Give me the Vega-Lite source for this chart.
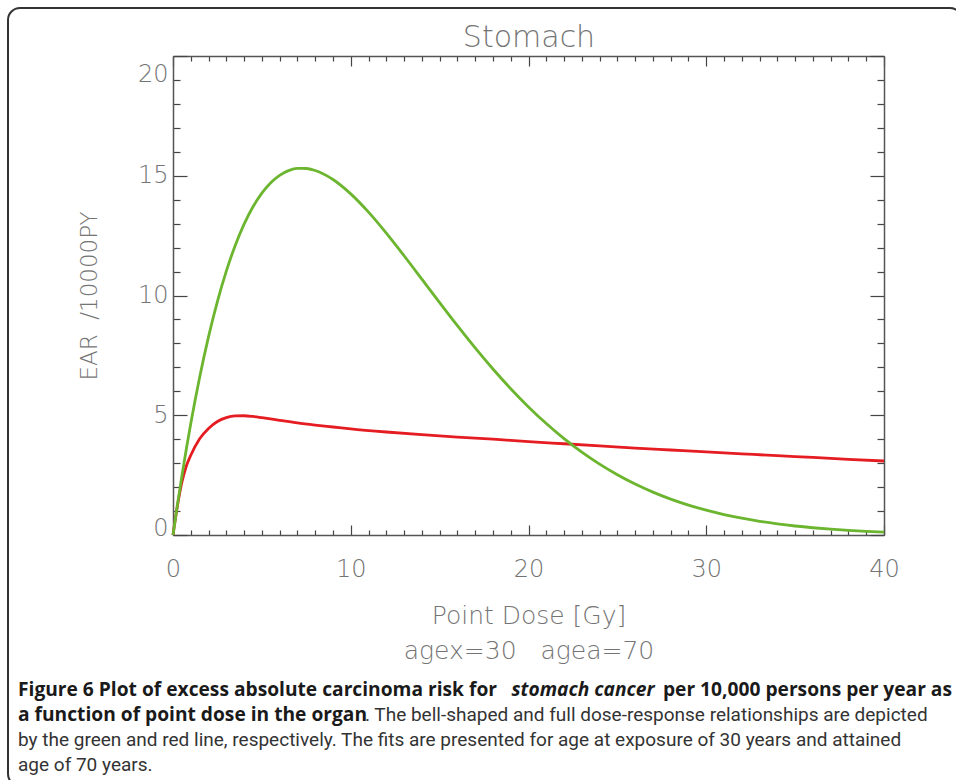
{
  "$schema": "https://vega.github.io/schema/vega-lite/v6.json",
  "autosize": {"type": "none"},
  "width": 954,
  "height": 778,
  "padding": {"left": 8, "top": 8, "right": -6, "bottom": -6},
  "background": "white",
  "config": {
    "view": {"stroke": "#333333", "strokeWidth": 2, "cornerRadius": 12, "fill": "white"},
    "axis": {"grid": false, "labelFont": "DejaVu Sans", "titleFont": "DejaVu Sans", "labelFontWeight": 200, "titleFontWeight": 200, "labelColor": "#747474", "titleColor": "#747474", "domainColor": "#555555", "domainWidth": 1.5, "tickColor": "#444444", "tickWidth": 1.2}
  },
  "datasets": {
    "green": [
      {"dose": 0, "ear": 0}, {"dose": 0.25, "ear": 1.267}, {"dose": 0.5, "ear": 2.463}, {"dose": 0.75, "ear": 3.592},
      {"dose": 1, "ear": 4.654}, {"dose": 1.5, "ear": 6.589}, {"dose": 2, "ear": 8.285}, {"dose": 2.5, "ear": 9.756},
      {"dose": 3, "ear": 11.018}, {"dose": 3.5, "ear": 12.087}, {"dose": 4, "ear": 12.978}, {"dose": 4.5, "ear": 13.703},
      {"dose": 5, "ear": 14.275}, {"dose": 5.5, "ear": 14.71}, {"dose": 6, "ear": 15.019}, {"dose": 6.5, "ear": 15.212},
      {"dose": 7, "ear": 15.304}, {"dose": 7.5, "ear": 15.303}, {"dose": 8, "ear": 15.219}, {"dose": 9, "ear": 14.843},
      {"dose": 10, "ear": 14.242}, {"dose": 11, "ear": 13.48}, {"dose": 12, "ear": 12.604}, {"dose": 13, "ear": 11.66},
      {"dose": 14, "ear": 10.684}, {"dose": 15, "ear": 9.702}, {"dose": 16, "ear": 8.739}, {"dose": 17, "ear": 7.811},
      {"dose": 18, "ear": 6.931}, {"dose": 19, "ear": 6.109}, {"dose": 20, "ear": 5.348}, {"dose": 21, "ear": 4.653},
      {"dose": 22, "ear": 4.024}, {"dose": 23, "ear": 3.461}, {"dose": 24, "ear": 2.959}, {"dose": 25, "ear": 2.516},
      {"dose": 26, "ear": 2.128}, {"dose": 27, "ear": 1.791}, {"dose": 28, "ear": 1.499}, {"dose": 29, "ear": 1.249},
      {"dose": 30, "ear": 1.035}, {"dose": 31, "ear": 0.853}, {"dose": 32, "ear": 0.7}, {"dose": 33, "ear": 0.572},
      {"dose": 34, "ear": 0.465}, {"dose": 35, "ear": 0.376}, {"dose": 36, "ear": 0.303}, {"dose": 37, "ear": 0.243},
      {"dose": 38, "ear": 0.194}, {"dose": 39, "ear": 0.154}, {"dose": 40, "ear": 0.122}
    ],
    "red": [
      {"dose": 0, "ear": 0}, {"dose": 0.25, "ear": 1.22}, {"dose": 0.5, "ear": 2.2}, {"dose": 0.75, "ear": 2.88},
      {"dose": 1, "ear": 3.33}, {"dose": 1.5, "ear": 4.02}, {"dose": 2, "ear": 4.45}, {"dose": 2.5, "ear": 4.74},
      {"dose": 3, "ear": 4.9}, {"dose": 3.5, "ear": 4.97}, {"dose": 4, "ear": 4.98}, {"dose": 4.5, "ear": 4.95},
      {"dose": 5, "ear": 4.9}, {"dose": 6, "ear": 4.79}, {"dose": 7, "ear": 4.68}, {"dose": 8, "ear": 4.59},
      {"dose": 9, "ear": 4.51}, {"dose": 10, "ear": 4.43}, {"dose": 12, "ear": 4.3}, {"dose": 14, "ear": 4.19},
      {"dose": 16, "ear": 4.09}, {"dose": 18, "ear": 4.0}, {"dose": 20, "ear": 3.9}, {"dose": 22, "ear": 3.81},
      {"dose": 24, "ear": 3.72}, {"dose": 26, "ear": 3.63}, {"dose": 28, "ear": 3.55}, {"dose": 30, "ear": 3.47},
      {"dose": 32, "ear": 3.39}, {"dose": 34, "ear": 3.31}, {"dose": 36, "ear": 3.24}, {"dose": 38, "ear": 3.16},
      {"dose": 40, "ear": 3.09}
    ],
    "caption": [
      {"line": 1, "anchor": "start", "part": "lead", "kind": "bold", "text": "Figure 6 Plot of excess absolute carcinoma risk for"},
      {"line": 1, "anchor": "start", "part": "mid", "kind": "italic", "text": "stomach cancer"},
      {"line": 1, "anchor": "end", "part": "tail", "kind": "bold", "text": "per 10,000 persons per year as"},
      {"line": 2, "anchor": "start", "part": "lead", "kind": "bold", "text": "a function of point dose in the organ"},
      {"line": 2, "anchor": "start", "part": "cont", "kind": "normal", "text": ". The bell-shaped and full dose-response relationships are depicted"},
      {"line": 3, "anchor": "start", "part": "lead", "kind": "normal", "text": "by the green and red line, respectively. The fits are presented for age at exposure of 30 years and attained"},
      {"line": 4, "anchor": "start", "part": "lead", "kind": "normal", "text": "age of 70 years."}
    ]
  },
  "resolve": {
    "scale": {"x": "independent", "y": "independent"},
    "axis": {"x": "independent", "y": "independent"}
  },
  "layer": [
    {
      "data": {"name": "red"},
      "mark": {"type": "line", "color": "#e51d22", "strokeWidth": 2.8, "interpolate": "monotone"},
      "encoding": {
        "x": {"field": "dose", "type": "quantitative",
          "scale": {"domain": [0, 40], "range": [165, 876], "nice": false, "zero": false},
          "axis": {"orient": "bottom", "offset": -251, "values": [0,1,2,3,4,5,6,7,8,9,10,11,12,13,14,15,16,17,18,19,20,21,22,23,24,25,26,27,28,29,30,31,32,33,34,35,36,37,38,39,40],
            "tickSize": {"condition": {"test": "datum.value % 10 === 0", "value": -10}, "value": -5},
            "labelExpr": "datum.value % 10 === 0 ? datum.label : ''",
            "labelFontSize": 24, "labelPadding": 32, "labelOverlap": false, "labelFlush": false,
            "title": ["Point Dose [Gy]", "agex=30\u00a0\u00a0\u00a0agea=70"],
            "titleFontSize": 25, "titleLineHeight": 35, "titlePadding": 17}},
        "y": {"field": "ear", "type": "quantitative",
          "scale": {"domain": [0, 20], "range": [527, 48], "nice": false, "zero": false},
          "axis": {"orient": "left", "offset": -165, "values": [0,1,2,3,4,5,6,7,8,9,10,11,12,13,14,15,16,17,18,19,20],
            "tickSize": {"condition": {"test": "datum.value % 5 === 0", "value": -14}, "value": -7},
            "labelExpr": "datum.value % 5 === 0 ? datum.label : ''",
            "labelOffset": {"condition": [{"test": "datum.value === 20", "value": 18}, {"test": "datum.value === 0", "value": -7}], "value": 0},
            "labelFontSize": 24, "labelPadding": 19, "labelOverlap": false, "labelFlush": false,
            "title": "EAR\u00a0\u00a0/10000PY", "titleFontSize": 23, "titlePadding": 36}}
      }
    },
    {
      "data": {"name": "green"},
      "mark": {"type": "line", "color": "#6cb52f", "strokeWidth": 2.8, "interpolate": "monotone"},
      "encoding": {
        "x": {"field": "dose", "type": "quantitative",
          "scale": {"domain": [0, 40], "range": [165, 876], "nice": false, "zero": false},
          "axis": {"orient": "top", "offset": -48, "values": [0,1,2,3,4,5,6,7,8,9,10,11,12,13,14,15,16,17,18,19,20,21,22,23,24,25,26,27,28,29,30,31,32,33,34,35,36,37,38,39,40],
            "tickSize": {"condition": {"test": "datum.value % 10 === 0", "value": -10}, "value": -5},
            "labels": false, "title": "Stomach", "titleFontSize": 30, "titlePadding": 3}},
        "y": {"field": "ear", "type": "quantitative",
          "scale": {"domain": [0, 20], "range": [527, 48], "nice": false, "zero": false},
          "axis": {"orient": "right", "offset": -78, "values": [0,1,2,3,4,5,6,7,8,9,10,11,12,13,14,15,16,17,18,19,20],
            "tickSize": {"condition": {"test": "datum.value % 5 === 0", "value": -14}, "value": -7},
            "labels": false, "title": null}}
      }
    },
    {
      "data": {"name": "caption"},
      "encoding": {
        "x": {"field": "anchor", "type": "nominal", "scale": {"type": "point", "domain": ["start", "end"], "range": [10, 944], "padding": 0}, "axis": null},
        "y": {"field": "line", "type": "quantitative", "scale": {"domain": [1, 4], "range": [688, 763], "nice": false, "zero": false}, "axis": null},
        "text": {"field": "text"}
      },
      "layer": [
        {"transform": [{"filter": "datum.kind === 'bold' && datum.part === 'lead'"}],
         "mark": {"type": "text", "align": "left", "baseline": "alphabetic", "font": "Open Sans", "fontSize": 19.2, "fontWeight": "bold", "color": "#1a1a1a"}},
        {"transform": [{"filter": "datum.kind === 'bold' && datum.part === 'tail'"}],
         "mark": {"type": "text", "align": "right", "baseline": "alphabetic", "font": "Open Sans", "fontSize": 19.2, "fontWeight": "bold", "color": "#1a1a1a"}},
        {"transform": [{"filter": "datum.kind === 'italic'"}],
         "mark": {"type": "text", "align": "center", "baseline": "alphabetic", "dx": 565, "font": "Open Sans", "fontSize": 19.2, "fontWeight": "bold", "fontStyle": "italic", "color": "#1a1a1a"}},
        {"transform": [{"filter": "datum.kind === 'normal' && datum.part === 'lead'"}],
         "mark": {"type": "text", "align": "left", "baseline": "alphabetic", "font": "Roboto", "fontSize": 19, "color": "#333333"}},
        {"transform": [{"filter": "datum.kind === 'normal' && datum.part === 'cont'"}],
         "mark": {"type": "text", "align": "left", "baseline": "alphabetic", "dx": 347, "font": "Roboto", "fontSize": 19, "color": "#333333"}}
      ]
    }
  ]
}
